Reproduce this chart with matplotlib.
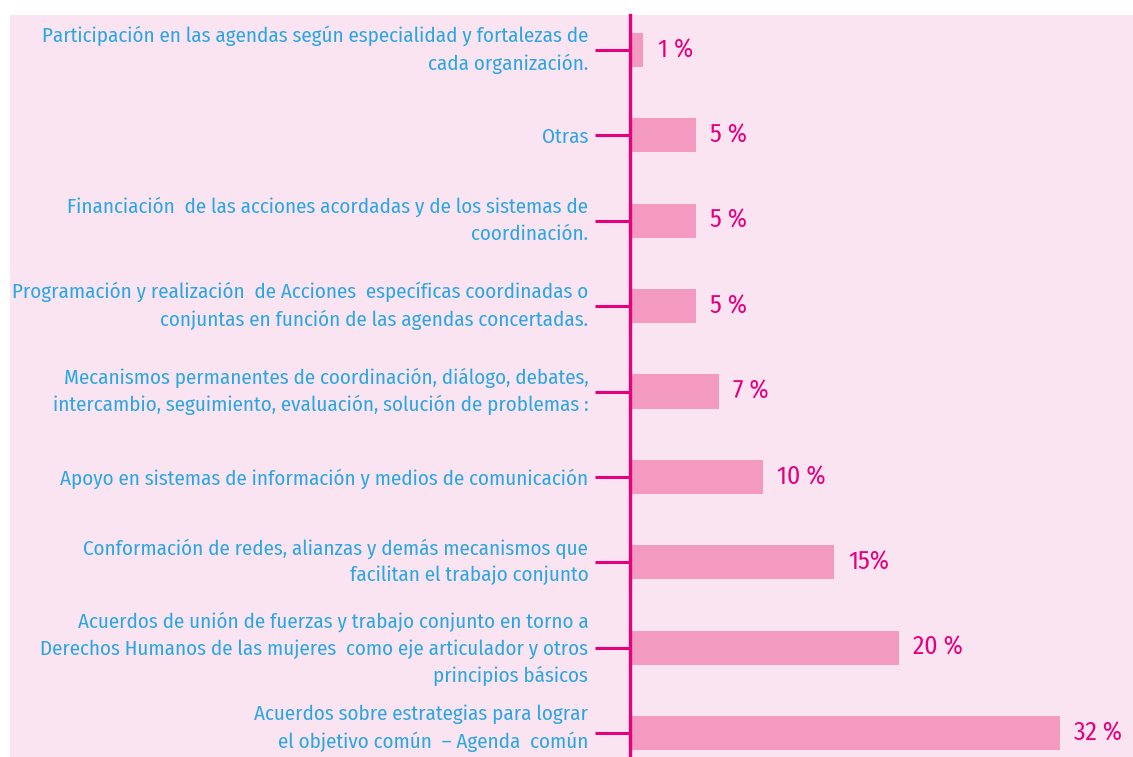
import matplotlib
matplotlib.use("Agg")
import matplotlib.pyplot as plt
import matplotlib.transforms as mtransforms
from matplotlib.patches import Rectangle

categories = [
    "Acuerdos sobre estrategias para lograr\nel objetivo común  – Agenda  común",
    "Acuerdos de unión de fuerzas y trabajo conjunto en torno a\nDerechos Humanos de las mujeres  como eje articulador y otros\nprincipios básicos",
    "Conformación de redes, alianzas y demás mecanismos que\nfacilitan el trabajo conjunto",
    "Apoyo en sistemas de información y medios de comunicación",
    "Mecanismos permanentes de coordinación, diálogo, debates,\nintercambio, seguimiento, evaluación, solución de problemas :",
    "Programación y realización  de Acciones  específicas coordinadas o\nconjuntas en función de las agendas concertadas.",
    "Financiación  de las acciones acordadas y de los sistemas de\ncoordinación.",
    "Otras",
    "Participación en las agendas según especialidad y fortalezas de\ncada organización.",
]
values = [32, 20, 15.2, 9.9, 6.6, 4.9, 4.9, 4.9, 1]
value_labels = ["32 %", "20 %", "15%", "10 %", "7 %", "5 %", "5 %", "5 %", "1 %"]

plt.rcParams['font.family'] = ['Fira Sans Condensed', 'Roboto Condensed', 'DejaVu Sans']

BG = "#FBE4F1"
BAR = "#F49AC1"
MAG = "#E5007D"
BLUE = "#2AA7E1"

fig = plt.figure(figsize=(11.33, 7.57), dpi=100)
fig.patch.set_facecolor("white")
fig.patches.append(Rectangle((10 / 1133, 0), 1, 1 - 15 / 757, transform=fig.transFigure,
                             facecolor=BG, edgecolor="none", zorder=-10))

ax = fig.add_axes([630 / 1133, 0, 1 - 630 / 1133, 1 - 15 / 757])
ax.set_zorder(1)
ax.set_facecolor("none")
ypos = list(range(len(categories)))
ax.barh(ypos, values, height=0.4, color=BAR, left=0)
for y, v, lab in zip(ypos, values, value_labels):
    ax.text(v + 1.05, y, lab, va="center", ha="left", color=MAG, fontsize=18.5)

ax.set_xlim(0, 37.4)
ax.set_ylim(-0.28, 8.41)
ax.set_yticks(ypos)
ax.set_yticklabels(categories, color=BLUE, fontsize=15.1, linespacing=1.45)
ax.tick_params(axis="y", direction="out", length=25, width=2.2, color=MAG, pad=5)
ax.xaxis.set_visible(False)
for s in ["top", "right", "bottom"]:
    ax.spines[s].set_visible(False)
ax.spines["left"].set_color(MAG)
ax.spines["left"].set_linewidth(2.4)

for i, lbl in enumerate(ax.get_yticklabels()):
    nlines = lbl.get_text().count("\n") + 1
    shift = 0 if nlines == 1 else (4.5 if nlines == 3 else 6)
    if i == 0:
        shift = 11
    lbl.set_transform(lbl.get_transform() + mtransforms.ScaledTranslation(0, shift / 100, fig.dpi_scale_trans))

fig.savefig("out.png", dpi=100)
